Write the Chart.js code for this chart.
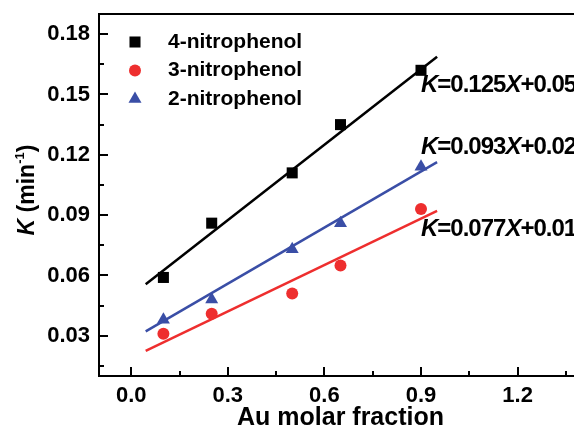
<!DOCTYPE html>
<html>
<head>
<meta charset="utf-8">
<script src="https://cdn.jsdelivr.net/npm/chart.js@4/dist/chart.umd.min.js"></script>
<style>
	html, body { margin: 0; padding: 0; background: #fff; overflow: hidden; }
	.wrap { width: 600px; height: 434px; }
</style>
</head>
<body>
<div class="wrap"><canvas id="chart"></canvas></div>
<script>
// Values

const fraction = [0.1, 0.25, 0.5, 0.65, 0.9];
const k4 = [0.059, 0.086, 0.111, 0.135, 0.162];
const k3 = [0.031, 0.041, 0.051, 0.065, 0.093];
const k2 = [0.038, 0.048, 0.073, 0.086, 0.114];
const seriesNames = ["4-nitrophenol", "3-nitrophenol", "2-nitrophenol"];
const slopes = [0.125, 0.077, 0.093];
const intercepts = [0.050, 0.019, 0.028];
const fitRange = [0.045, 0.95];
const xTicks = [0.0, 0.3, 0.6, 0.9, 1.2];
const yTicks = [0.03, 0.06, 0.09, 0.12, 0.15, 0.18];

const FONT = "'Liberation Sans', Arial, sans-serif";
const colors = ["#000000", "#ee2e2e", "#3a4ea6"];
const styles = ["rect", "circle", "triangle"];
const radii = [7.8, 6, 7.5];
const values = [k4, k3, k2];

const points = (ys) => fraction.map((x, i) => ({ x: x, y: ys[i] }));
const fitLine = (i) => fitRange.map((x) => ({ x: x, y: slopes[i] * x + intercepts[i] }));

const datasets = [];
values.forEach((ys, i) => {
	datasets.push({
		type: "scatter",
		label: seriesNames[i],
		data: points(ys),
		pointStyle: styles[i],
		pointRadius: radii[i],
		backgroundColor: colors[i],
		borderColor: colors[i],
		borderWidth: 0,
	});
});
values.forEach((ys, i) => {
	datasets.push({
		type: "line",
		label: "fit " + seriesNames[i],
		data: fitLine(i),
		borderColor: colors[i],
		borderWidth: 2.5,
		pointRadius: 0,
		fill: false,
	});
});

// equation labels, anchored in data coordinates
const equations = [
	{ x: 0.9, y: 0.1545, i: 0 },
	{ x: 0.9, y: 0.1236, i: 2 },
	{ x: 0.9, y: 0.0829, i: 1 },
];

const drawPieces = (ctx, pieces, x, y) => {
	pieces.forEach((p) => {
		ctx.font = p.font;
		ctx.fillText(p.text, x, y + (p.dy || 0));
		x += ctx.measureText(p.text).width;
	});
};
const piecesWidth = (ctx, pieces) =>
	pieces.reduce((w, p) => {
		ctx.font = p.font;
		return w + ctx.measureText(p.text).width;
	}, 0);

const decorations = {
	id: "decorations",
	afterDraw(chart) {
		const { ctx, chartArea: area, scales } = chart;
		const x = scales.x;
		const y = scales.y;
		ctx.save();
		ctx.strokeStyle = "#000";
		ctx.fillStyle = "#000";
		ctx.lineWidth = 2;

		// top frame line
		ctx.beginPath();
		ctx.moveTo(area.left - 1, area.top);
		ctx.lineTo(area.right, area.top);
		ctx.stroke();

		// inward ticks, major and minor
		ctx.beginPath();
		for (let v = 0; v <= 1.36; v += 0.15) {
			const px = Math.round(x.getPixelForValue(v));
			const major = Math.abs(v / 0.3 - Math.round(v / 0.3)) < 1e-6;
			ctx.moveTo(px, area.bottom);
			ctx.lineTo(px, area.bottom - (major ? 9 : 5));
		}
		for (let v = 0.015; v <= 0.181; v += 0.015) {
			const py = Math.round(y.getPixelForValue(v));
			const major = Math.abs(v / 0.03 - Math.round(v / 0.03)) < 1e-6;
			ctx.moveTo(area.left, py);
			ctx.lineTo(area.left + (major ? 9 : 5), py);
		}
		ctx.stroke();

		// legend
		ctx.textBaseline = "middle";
		ctx.textAlign = "left";
		seriesNames.forEach((name, i) => {
			const ly = 42 + i * 28.5;
			ctx.fillStyle = colors[i];
			Chart.helpers.drawPoint(ctx, { pointStyle: styles[i], radius: radii[i], rotation: 0, borderWidth: 0 }, 135, ly);
			ctx.fillStyle = "#000";
			ctx.font = "bold 21px " + FONT;
			ctx.fillText(name, 168, ly);
		});

		// fit equations (slightly condensed like the original)
		ctx.letterSpacing = "-1px";
		equations.forEach((eq) => {
			const pieces = [
				{ text: "K", font: "italic bold 24px " + FONT },
				{ text: "=" + slopes[eq.i].toFixed(3), font: "bold 24px " + FONT },
				{ text: "X", font: "italic bold 24px " + FONT },
				{ text: "+" + intercepts[eq.i].toFixed(3), font: "bold 24px " + FONT },
			];
			drawPieces(ctx, pieces, x.getPixelForValue(eq.x), y.getPixelForValue(eq.y));
		});
		ctx.letterSpacing = "0px";

		// y axis title
		const title = [
			{ text: "K", font: "italic bold 23px " + FONT },
			{ text: " (min", font: "bold 23px " + FONT },
			{ text: "-1", font: "bold 13px " + FONT, dy: -8 },
			{ text: ")", font: "bold 23px " + FONT },
		];
		ctx.translate(28, (area.top + area.bottom) / 2 - 5);
		ctx.rotate(-Math.PI / 2);
		drawPieces(ctx, title, -piecesWidth(ctx, title) / 2, 0);
		ctx.restore();
	},
};

Chart.defaults.font.family = FONT;
Chart.defaults.color = "#000";

const chart = new Chart(document.getElementById("chart"), {
	data: { datasets: datasets },
	options: {
		responsive: true,
		maintainAspectRatio: false,
		animation: false,
		layout: { padding: { top: 14, right: 18, left: 0, bottom: 0 } },
		plugins: {
			legend: { display: false },
			tooltip: { enabled: false },
		},
		scales: {
			x: {
				type: "linear",
				min: -0.1,
				max: 1.4,
				afterBuildTicks: (scale) => {
					scale.ticks = xTicks.map((v) => ({ value: v }));
				},
				afterFit: (scale) => {
					scale.height = 58;
					scale.paddingLeft = 0;
					scale.paddingRight = 0;
				},
				grid: { display: true, drawOnChartArea: false, drawTicks: false },
				border: { color: "#000", width: 2 },
				ticks: {
					padding: 7,
					font: { size: 22, weight: "bold" },
					callback: (v) => v.toFixed(1),
				},
				title: {
					display: true,
					text: "Au molar fraction",
					font: { size: 25, weight: "bold", lineHeight: 1 },
					padding: { top: 0, bottom: 3 },
				},
			},
			y: {
				type: "linear",
				min: 0.01,
				max: 0.19,
				afterBuildTicks: (scale) => {
					scale.ticks = yTicks.map((v) => ({ value: v }));
				},
				afterFit: (scale) => {
					scale.width = 99;
					scale.paddingTop = 0;
					scale.paddingBottom = 0;
				},
				grid: { display: true, drawOnChartArea: false, drawTicks: false },
				border: { color: "#000", width: 2 },
				ticks: {
					padding: 9,
					font: { size: 22, weight: "bold" },
					callback: (v) => v.toFixed(2),
				},
			},
		},
	},
	plugins: [decorations],
});
</script>
</body>
</html>
